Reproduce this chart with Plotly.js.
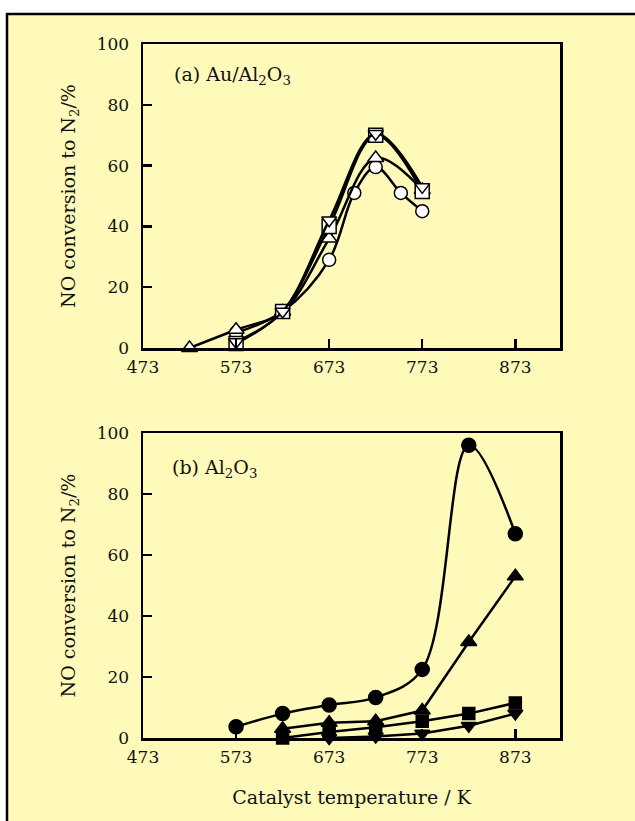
<!DOCTYPE html>
<html>
<head>
<meta charset="utf-8">
<script src="https://cdn.plot.ly/plotly-3.0.1.min.js"></script>
<style>html,body{margin:0;padding:0;background:#fff;}#chart{width:635px;height:821px;}</style>
</head>
<body>
<div id="chart"></div>
<script>
// ---- Panel (a) Au/Al2O3 : temperatures (K) and NO conversion to N2 (%) ----
const aCircleT = [573, 623, 673, 700, 723, 750, 773];
const aCircleV = [5, 12, 29, 51, 59.5, 51, 45];
const aTriUpT = [523, 573, 623, 673, 723, 773];
const aTriUpV = [0, 6, 12, 36, 62.5, 52];
const aSquareT = [573, 623, 673, 723, 773];
const aSquareV = [1.5, 12, 40, 70, 51.5];
const aTriDownT = [573, 623, 673, 723, 773];
const aTriDownV = [2, 12, 42, 70.5, 53];

// ---- Panel (b) Al2O3 ----
const bCircleT = [573, 623, 673, 723, 773, 823, 873];
const bCircleV = [3.7, 8, 10.8, 13.3, 22.5, 96, 67];
const bTriUpT = [623, 673, 723, 773, 823, 873];
const bTriUpV = [3, 5, 5.5, 9, 31.5, 53];
const bSquareT = [623, 673, 723, 773, 823, 873];
const bSquareV = [0, 2, 3.5, 5.5, 8, 11.5];
const bTriDownT = [673, 723, 773, 823, 873];
const bTriDownV = [0, 0.5, 1.5, 4, 8];

const xTicks = [473, 573, 673, 773, 873];
const yTicks = [0, 20, 40, 60, 80, 100];

const FONT = "DejaVu Serif";
const BG = "rgb(255,250,186)";

function tr(x, y, sym, fill, xa, ya, shape, size) {
  return {
    x: x, y: y, xaxis: xa, yaxis: ya, type: "scatter", mode: "lines+markers",
    cliponaxis: false, showlegend: false,
    line: {color: "#000", width: 2.5, shape: shape, smoothing: 1},
    marker: {symbol: sym, size: size, color: fill, line: {color: "#000", width: 1.5}}
  };
}

const data = [
  tr(aCircleT, aCircleV, "circle", "#fff", "x", "y", "spline", 13),
  tr(aTriUpT, aTriUpV, "triangle-up", "#fff", "x", "y", "spline", 14),
  tr(aSquareT, aSquareV, "square", "#fff", "x", "y", "spline", 14),
  tr(aTriDownT, aTriDownV, "triangle-down", "#fff", "x", "y", "spline", 13),
  tr(bCircleT, bCircleV, "circle", "#000", "x2", "y2", "spline", 14),
  tr(bTriUpT, bTriUpV, "triangle-up", "#000", "x2", "y2", "linear", 14),
  tr(bSquareT, bSquareV, "square", "#000", "x2", "y2", "linear", 12),
  tr(bTriDownT, bTriDownV, "triangle-down", "#000", "x2", "y2", "linear", 13)
];

const W = 635, H = 821;
const xDom = [143 / W, 560 / W];

function xAxis(anchor, showTitle) {
  const ax = {
    domain: xDom, anchor: anchor, range: [473, 921],
    tickmode: "array", tickvals: xTicks, ticktext: xTicks.map(String),
    ticks: "inside", ticklen: 9, tickwidth: 2.5, tickcolor: "#000",
    showline: true, mirror: true, linewidth: 2.5, linecolor: "#000",
    showgrid: false, zeroline: false, ticklabelstandoff: 2,
    tickfont: {family: FONT, size: 17, color: "#111"}
  };
  if (showTitle) {
    ax.title = {text: "Catalyst temperature / K", font: {family: FONT, size: 19, color: "#111"}, standoff: 25};
  }
  return ax;
}
function yAxis(anchor, dom) {
  return {
    domain: dom, anchor: anchor, range: [0, 100],
    tickmode: "array", tickvals: yTicks, ticktext: yTicks.map(String),
    ticks: "inside", ticklen: 9, tickwidth: 2.5, tickcolor: "#000",
    showline: true, mirror: true, linewidth: 2.5, linecolor: "#000",
    showgrid: false, zeroline: false, ticklabelstandoff: 8,
    tickfont: {family: FONT, size: 17, color: "#111"},
    title: {text: "NO conversion to N<sub>2</sub>/%", font: {family: FONT, size: 19, color: "#111"}, standoff: 16}
  };
}

const layout = {
  width: W, height: H,
  margin: {l: 0, r: 0, t: 0, b: 0},
  paper_bgcolor: "#fff",
  plot_bgcolor: "rgba(0,0,0,0)",
  xaxis: xAxis("y", false),
  yaxis: yAxis("x", [1 - 348 / H, 1 - 44 / H]),
  xaxis2: xAxis("y2", true),
  yaxis2: yAxis("x2", [1 - 738 / H, 1 - 433 / H]),
  shapes: [{
    type: "rect", xref: "paper", yref: "paper", layer: "below",
    x0: 7 / W, x1: 1.02, y0: -0.02, y1: 1 - 14 / H,
    fillcolor: BG, line: {color: "#000", width: 2.5}
  }],
  annotations: [
    {xref: "paper", yref: "paper", x: 172 / W, y: 1 - 75 / H, xanchor: "left", yanchor: "middle",
     text: "(a) Au/Al<sub>2</sub>O<sub>3</sub>", showarrow: false, font: {family: FONT, size: 19, color: "#111"}},
    {xref: "paper", yref: "paper", x: 170 / W, y: 1 - 468 / H, xanchor: "left", yanchor: "middle",
     text: "(b) Al<sub>2</sub>O<sub>3</sub>", showarrow: false, font: {family: FONT, size: 19, color: "#111"}}
  ]
};

Plotly.newPlot("chart", data, layout, {displayModeBar: false, staticPlot: true});
</script>
</body>
</html>
